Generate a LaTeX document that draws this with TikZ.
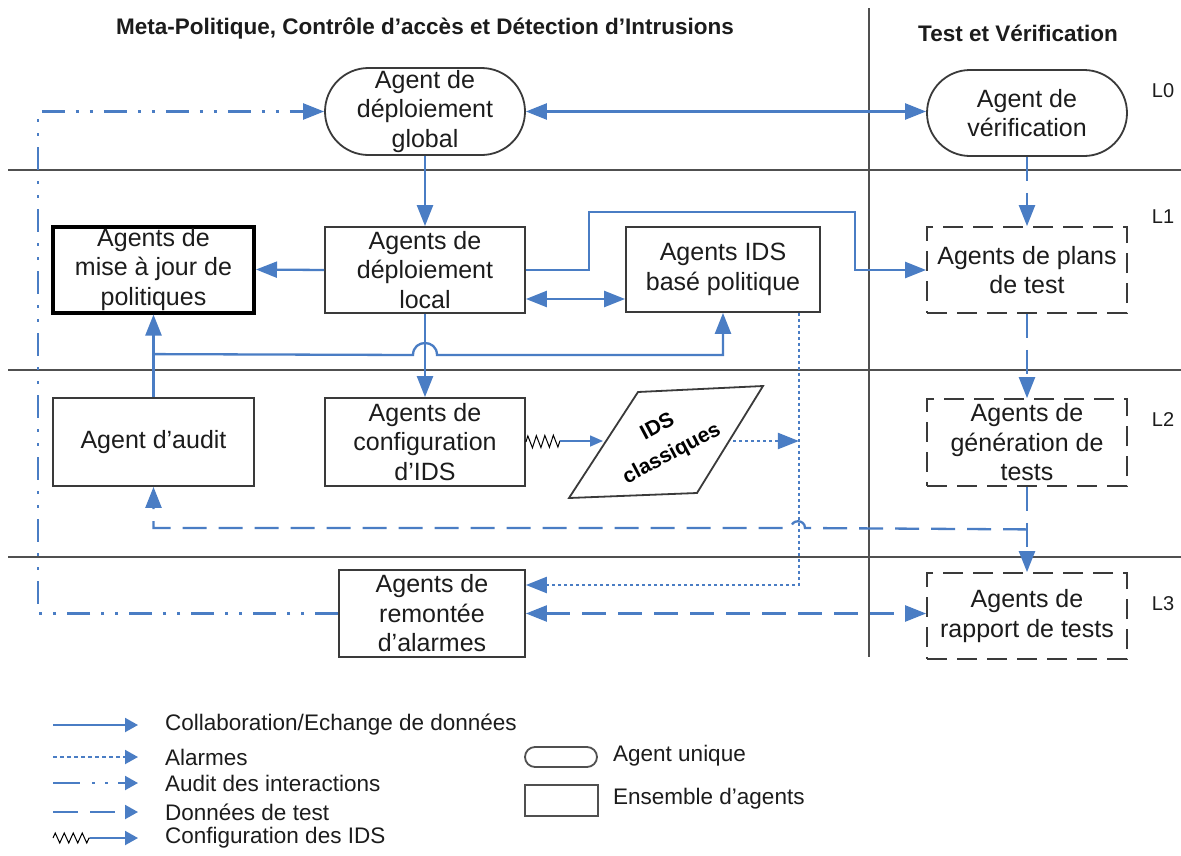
\documentclass[tikz,border=0pt]{standalone}
\usepackage{fontspec}
\setmainfont{Liberation Sans}
\usetikzlibrary{arrows.meta,shapes.misc,calc,decorations.pathmorphing}
\definecolor{flowblue}{HTML}{4A7DC4}
\definecolor{boxgray}{HTML}{3A3A3A}
\definecolor{sepgray}{HTML}{505050}
\definecolor{txt}{HTML}{1C1C1C}
\tikzset{
  agentbox/.style={draw=boxgray, line width=1.8pt, minimum width=200pt, minimum height=86pt,
    inner sep=0pt, align=center, text=txt, font=\fontsize{25}{29.5}\selectfont},
  thickbox/.style={agentbox, draw=black, line width=4pt},
  testbox/.style={agentbox, dash pattern=on 20pt off 10pt},
  single/.style={agentbox, rounded rectangle},
  flow/.style={draw=flowblue, line width=2.3pt, -{Triangle[length=21pt,width=16pt]}},
  flowboth/.style={flow, {Triangle[length=21pt,width=16pt]}-{Triangle[length=21pt,width=16pt]}},
  alarm/.style={flow, dash pattern=on 3pt off 3pt},
  auditline/.style={flow, dash pattern=on 23pt off 11pt on 3pt off 11pt on 3pt off 11pt},
  testdata/.style={flow, dash pattern=on 24pt off 12pt},
  testdataboth/.style={flowboth, dash pattern=on 24pt off 12pt},
  cfgflow/.style={draw=flowblue, line width=1.6pt, -{Triangle[length=13pt,width=11pt]}},
  zz/.style={draw=black, line width=1pt, decorate,
    decoration={zigzag, segment length=8.5pt, amplitude=6pt}},
  sep/.style={draw=sepgray, line width=2pt},
  title/.style={font=\fontsize{22.5}{27}\bfseries\selectfont, text=txt},
  lvl/.style={font=\fontsize{20}{24}\selectfont, text=txt},
  legtext/.style={anchor=west, font=\fontsize{22.5}{27}\selectfont, text=txt, inner sep=0pt},
  legflow/.style={draw=flowblue, line width=2pt, -{Triangle[length=13pt,width=14pt]}},
}
\begin{document}
\begin{tikzpicture}[x=1pt,y=-1pt]
\useasboundingbox[fill=white] (0,0) rectangle (1181,855);

% swimlane separators
\draw[sep] (8,170) -- (1181,170);
\draw[sep] (8,370) -- (1181,370);
\draw[sep] (8,557) -- (1181,557);
\draw[sep] (869,8) -- (869,657);

% headings and level labels
\node[title] (t1) at (425,28) {Meta-Politique, Contrôle d’accès et Détection d’Intrusions};
\node[title] (t2) at (1018,33) {Test et Vérification};
\node[lvl] (l0) at (1163,91) {L0};
\node[lvl] (l1) at (1163,217) {L1};
\node[lvl] (l2) at (1163,420) {L2};
\node[lvl] (l3) at (1163,604) {L3};

% agents
\node[single, minimum height=87pt] (global) at (425,111.5) {Agent de\\déploiement\\global};
\node[single] (verif) at (1027,113) {Agent de\\vérification};
\node[thickbox, minimum width=201pt] (majour) at (153.5,269.5) {Agents de\\mise à jour de\\politiques};
\node[agentbox] (local) at (425,270) {Agents de\\déploiement\\local};
\node[agentbox, minimum width=194pt, minimum height=85pt] (idsb) at (723,269.5) {Agents IDS\\basé politique};
\node[testbox] (plans) at (1027,270) {Agents de plans\\de test};
\node[agentbox, minimum width=201pt, minimum height=88pt] (audit) at (153.5,442) {Agent d’audit};
\node[agentbox, minimum height=88pt] (config) at (425,442) {Agents de\\configuration\\d’IDS};
\node[testbox, minimum height=87pt] (gen) at (1027,442.5) {Agents de\\génération de\\tests};
\node[agentbox, minimum width=186pt, minimum height=87pt] (rem) at (432,613.5) {Agents de\\remontée\\d’alarmes};
\node[testbox] (rapport) at (1027,616) {Agents de\\rapport de tests};

% classic IDS (parallelogram)
\draw[draw=boxgray, line width=1.8pt, fill=white] (638,392) -- (763,386) -- (697,493) -- (569,498) -- cycle;
\node[rotate=28, align=center, font=\fontsize{21}{30}\bfseries\selectfont, text=black] (ids) at (665,441) {IDS\\classiques};
\coordinate (idsW) at (603,441);
\coordinate (idsE) at (733,441);
\coordinate (zzend) at (560,441);

% helper points
\path (local.east) ++(0,29) coordinate (lr);
\path (audit.north) ++(0,-43) coordinate (jb);
\path (idsb.south east) ++(-22,0) coordinate (dtop);
\path (rem.east) ++(0,-28.5) coordinate (dend);
\path (gen.south) ++(0,42.5) coordinate (jt);

% collaboration / data exchange
\draw[flowboth] (global.east) -- (global.east -| verif.west);
\draw[flow] (global.south) -- (local.north);
\draw[flow] (local.west) -- (majour.east);
\draw[flow] (local.east) -- (589,270) -- (589,212) -- (855,212) -- (855,270) -- (plans.west);
\draw[flowboth] (lr) -- (lr -| idsb.west);
\draw[flow] (local.south) -- (config.north);
\draw[flow] (audit.north) -- (majour.south);
\draw[flow] (jb) -- (413,355) .. controls (413,339) and (437,339) .. (437,355) -| (idsb.south);

% IDS configuration
\draw[zz] (config.east) -- (zzend);
\draw[cfgflow] (zzend) -- (idsW);

% alarms
\draw[alarm] (idsE) -- (idsE -| dtop);
\draw[alarm] (dtop) -- (dtop |- dend) -- (dend);

% audit of interactions
\draw[auditline] (rem.west) -- (38,613.5) -- (38,111.5) -- (global.west);

% test data
\draw[testdata] (verif.south) -- (plans.north);
\draw[testdata] (plans.south) -- (gen.north);
\draw[testdata] (gen.south) -- (rapport.north);
\draw[testdata] (jt) -- (805,528) .. controls (805,519) and (791,519) .. (791,528) -| (audit.south);
\draw[testdataboth] (rem.east) -- (rem.east -| rapport.west);

% legend
\coordinate (k1a) at (53,725);  \coordinate (k1b) at (138,725);
\coordinate (k2a) at (53,757);  \coordinate (k2b) at (138,757);
\coordinate (k3a) at (53,783);  \coordinate (k3b) at (138,783);
\coordinate (k4a) at (53,812);  \coordinate (k4b) at (138,812);
\coordinate (k5a) at (53,838);  \coordinate (k5m) at (90,838); \coordinate (k5b) at (138,838);
\draw[legflow] (k1a) -- (k1b);
\draw[legflow, dash pattern=on 4pt off 3pt] (k2a) -- (k2b);
\draw[legflow, dash pattern=on 27pt off 12pt on 3pt off 10pt on 3pt off 10pt] (k3a) -- (k3b);
\draw[legflow, dash pattern=on 25pt off 12pt] (k4a) -- (k4b);
\draw[draw=black, line width=1pt, decorate, decoration={zigzag, segment length=9pt, amplitude=5pt}] (k5a) -- (k5m);
\draw[legflow] (k5m) -- (k5b);
\node[legtext] (g1) at (165,725) {Collaboration/Echange de données};
\node[legtext] (g2) at (165,757) {Alarmes};
\node[legtext] (g3) at (165,783) {Audit des interactions};
\node[legtext] (g4) at (165,812) {Données de test};
\node[legtext] (g5) at (165,838) {Configuration des IDS};
\node[draw=sepgray, line width=1.8pt, rounded rectangle, minimum width=72pt, minimum height=20pt, inner sep=0pt] (s1) at (561,757) {};
\node[draw=sepgray, line width=1.8pt, minimum width=73pt, minimum height=31pt, inner sep=0pt] (s2) at (561.5,800.5) {};
\node[legtext] (g6) at (613,756) {Agent unique};
\node[legtext] (g7) at (613,799) {Ensemble d’agents};
\end{tikzpicture}
\end{document}
